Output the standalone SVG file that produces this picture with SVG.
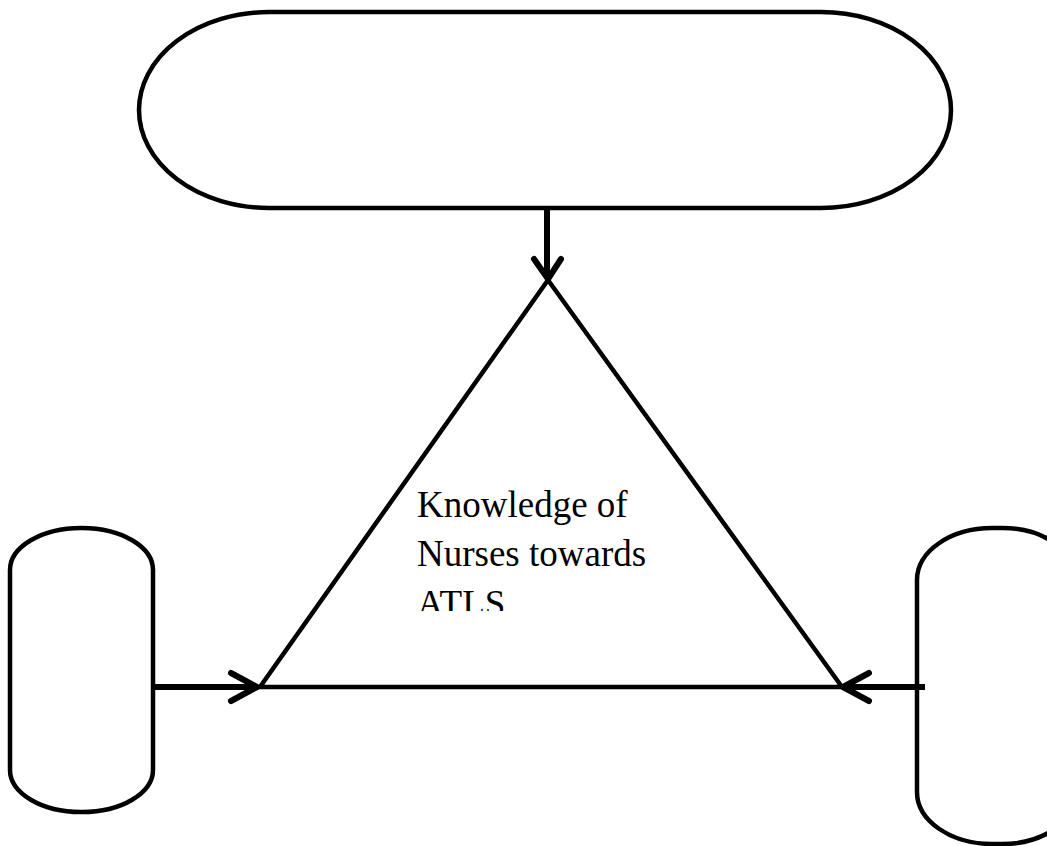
<svg xmlns="http://www.w3.org/2000/svg" width="1047" height="846" viewBox="0 0 1047 846">
<style>
.node{fill:#fff;stroke:#000;stroke-width:4.5}
.conn{fill:none;stroke:#000;stroke-width:6;stroke-linecap:butt}
.head{fill:none;stroke:#000;stroke-width:6;stroke-linecap:round;stroke-linejoin:round}
.lbl{font-family:"Liberation Serif","Times New Roman",serif;font-size:37px;fill:#000}
</style>
<defs>
<clipPath id="txtclip"><rect x="380" y="470" width="300" height="141"/></clipPath>
</defs>
<rect width="1047" height="846" fill="#fff"/>
<g id="node-top">
<rect class="node" x="139" y="12" width="812" height="196" rx="130" ry="98"/>
</g>
<g id="node-left">
<rect class="node" x="10" y="528" width="143" height="284" rx="71" ry="42"/>
</g>
<g id="node-right">
<rect class="node" x="917" y="528" width="160" height="316" rx="75" ry="52"/>
</g>
<g id="node-center">
<polygon class="node" points="548,280 260,687 842,687" fill="none"/>
<g clip-path="url(#txtclip)">
<text class="lbl" x="417" y="517">Knowledge of</text>
<text class="lbl" x="417" y="566">Nurses towards</text>
<text class="lbl" x="417" y="616">ATLS</text>
</g>
</g>
<g id="connectors">
<line class="conn" x1="547" y1="208" x2="547" y2="278"/>
<polyline class="head" points="534,259 548,279 561,259"/>
<line class="conn" x1="153" y1="687" x2="256" y2="687"/>
<polyline class="head" points="231,673 257,687 231,701"/>
<line class="conn" x1="925" y1="687" x2="844" y2="687"/>
<polyline class="head" points="869,673 843,687 869,701"/>
</g>
</svg>
